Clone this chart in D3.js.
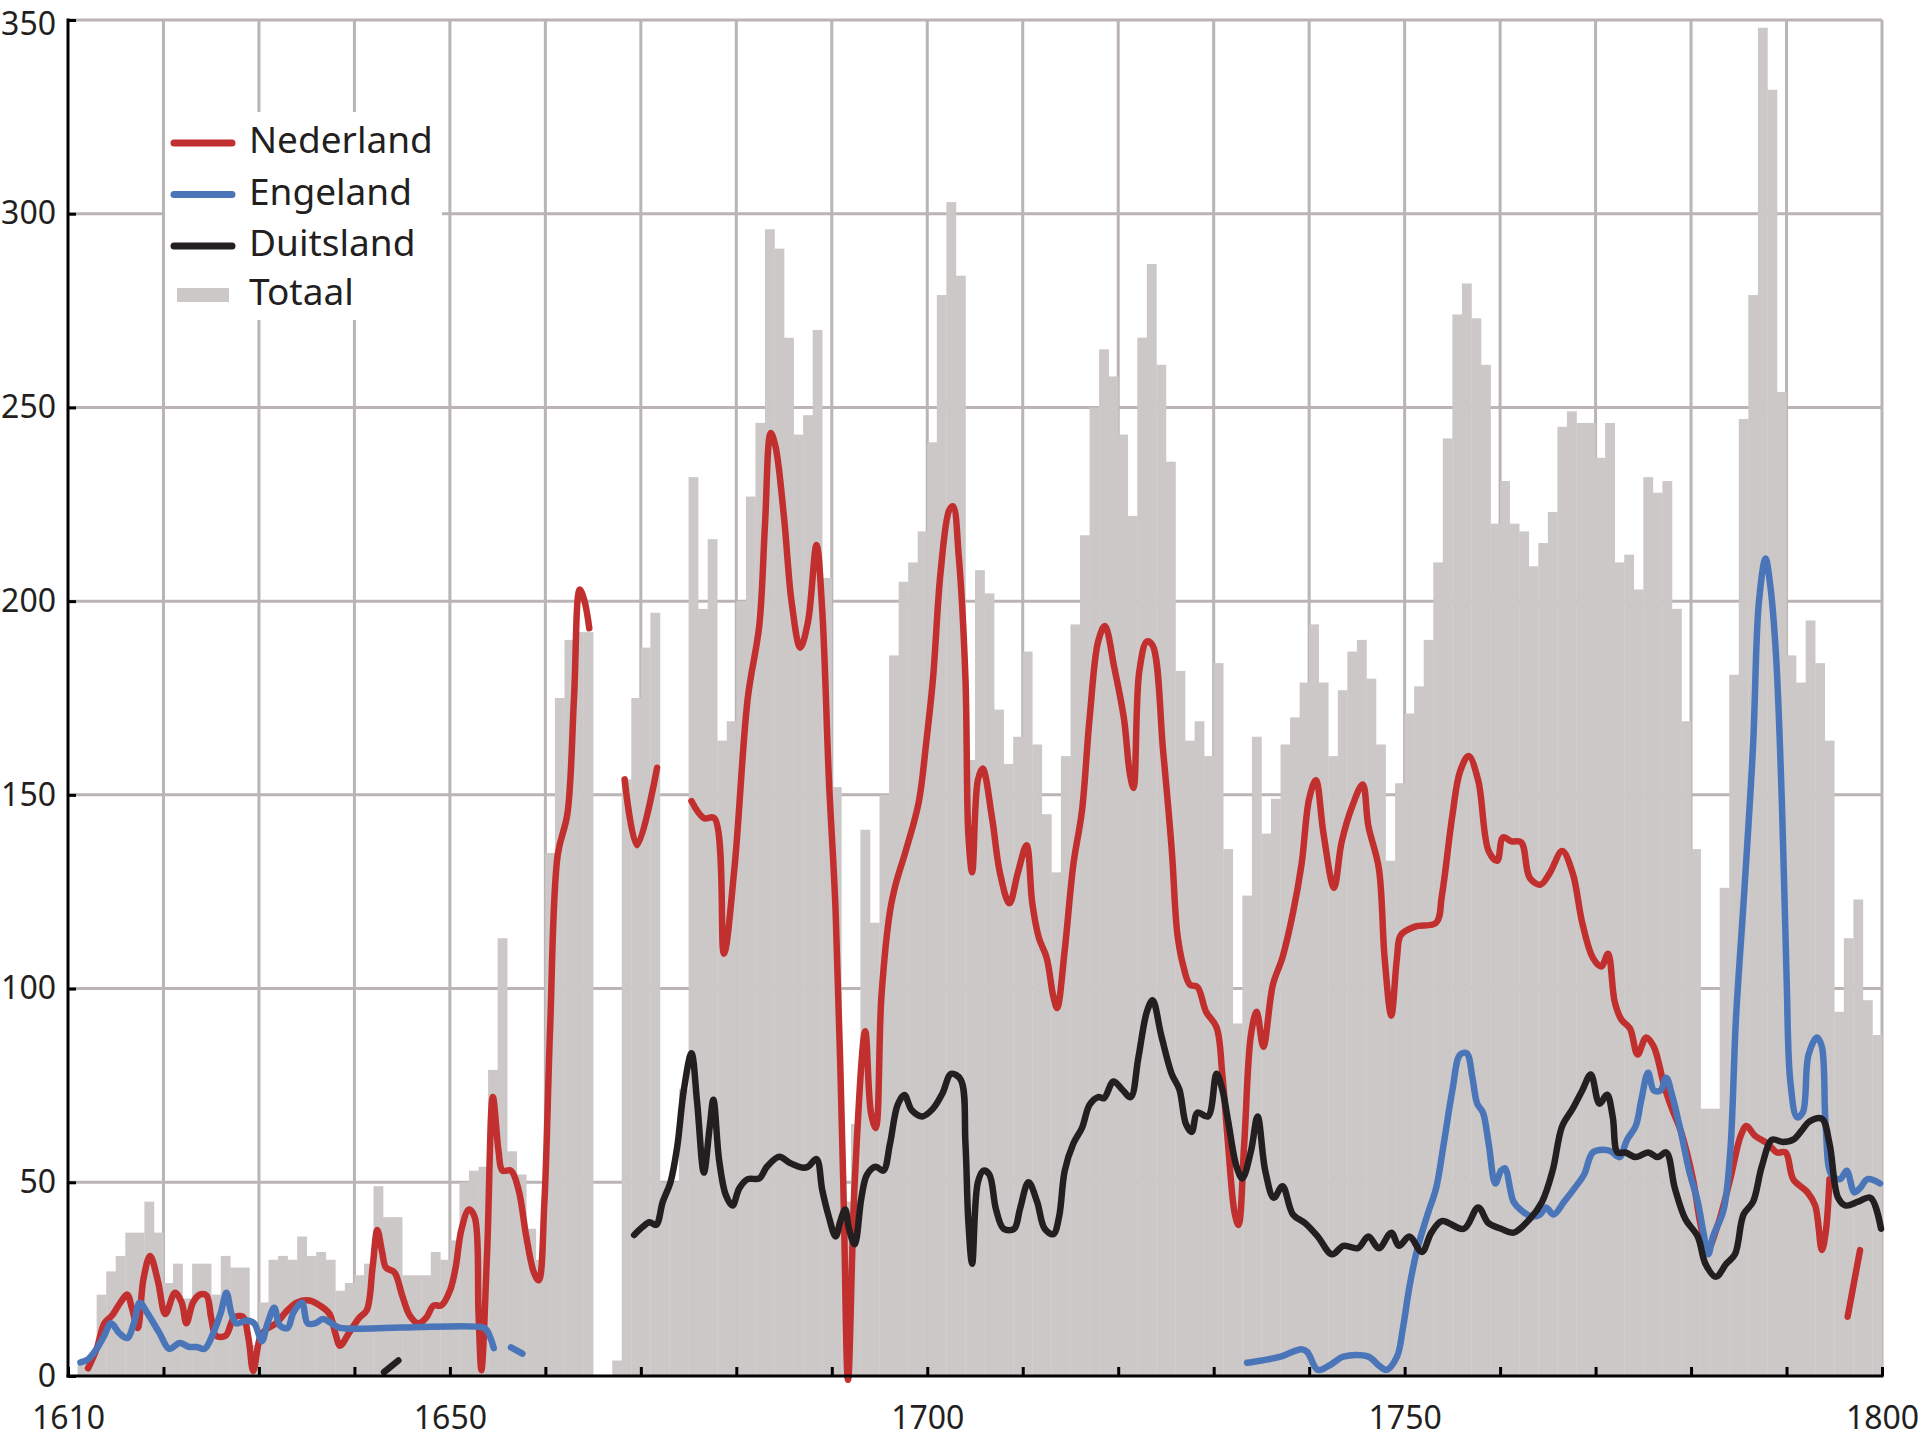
<!DOCTYPE html>
<html><head><meta charset="utf-8">
<script src="https://cdn.jsdelivr.net/npm/d3@7"></script>
<style>
body{margin:0;background:#fff}
svg{display:block}
text{font-family:"Noto Sans",sans-serif;fill:#231f20}
</style>
</head><body>
<svg id="chart" width="1920" height="1440"></svg>
<script>
// ---------- DATA ----------
const firstYear = 1611;
const totaal = [
 3,5,21,27,31,37,37,45,37,            // 1611-1619
 24,29,20,29,29,21,31,28,28,8,        // 1620-1629
 19,30,31,30,36,31,32,30,22,24,       // 1630-1639
 26,29,49,41,41,26,26,26,32,30,       // 1640-1649
 35,50,53,54,79,113,58,52,38,30,      // 1650-1659
 135,175,190,192,192,0,0,4,154,175,   // 1660-1669
 188,197,50,50,74,232,198,216,164,169,// 1670-1679
 200,227,246,296,291,268,243,248,270,206, // 1680-1689
 152,45,65,141,117,150,186,205,210,218,   // 1690-1699
 241,279,303,284,159,208,202,172,158,165, // 1700-1709
 187,163,145,130,160,194,217,250,265,258, // 1710-1719
 243,222,268,287,261,236,182,164,169,160, // 1720-1729
 184,136,91,124,165,140,149,163,170,179,  // 1730-1739
 194,179,160,177,187,190,180,163,133,153, // 1740-1749
 171,178,190,210,242,274,282,273,261,220, // 1750-1759
 231,220,218,209,215,223,245,249,246,246, // 1760-1769
 237,246,210,212,203,232,228,231,198,169, // 1770-1779
 136,69,69,126,181,247,279,348,332,254,   // 1780-1789
 186,179,195,184,164,94,113,123,97,88     // 1790-1799
];

const nederland = [
 [1612.1,2],[1613,7],[1613.8,13.6],[1614.6,15.6],[1615.5,19],[1616.2,21],[1616.7,17.5],[1617.3,12.4],
 [1617.9,25],[1618.6,31],[1619.4,24.7],[1620.2,16],[1621.2,21.5],[1621.9,19],[1622.4,13.6],[1623.1,19],
 [1623.8,21],[1624.5,20.8],[1625,15],[1625.5,10.4],[1626.5,10.4],[1627.4,15],[1628.3,15.3],[1628.9,9.8],
 [1629.4,1.3],[1630.1,9.8],[1630.7,12],[1631.8,13.6],[1633,17],[1634,19],[1635.3,19.5],[1636.5,18],
 [1637.4,16],[1638,11],[1638.5,7.8],[1639.4,11],[1640.5,15],[1641.3,17],[1641.9,28],[1642.4,37.7],
 [1642.9,32],[1643.3,28],[1644.2,26.7],[1645,20.8],[1645.8,15.6],[1646.7,13.6],[1647.5,15],[1648.3,18.2],
 [1649.1,18.2],[1650,22],[1650.6,28],[1651.2,37.7],[1652,43],[1652.6,41],[1653,16],[1653.3,1.5],
 [1653.9,32],[1654.5,72],[1655.1,58],[1655.5,53],[1656.4,53],[1657.2,48],[1658,36],[1658.8,26.7],
 [1659.3,24.7],[1659.9,45],[1660.5,90],[1661.3,134.6],[1662.3,145],[1663,175],[1663.6,203],[1664.1,200],[1664.6,193],
 null,
 [1668.3,154],[1669.6,137],[1671.7,157],
 null,
 [1675.3,148.4],[1676.6,144],[1677.7,144],[1678.7,109],[1679.8,131],[1681.2,175],[1682.4,193.6],[1683,219.5],
 [1683.6,243.4],[1684.1,240],[1685,221.5],[1685.8,199.6],[1686.7,188],[1687.5,194.6],[1688.4,214.5],[1689,197.6],
 [1689.7,153.8],[1690.4,120],[1691.2,50],[1691.7,-1],[1692.4,50],[1693.5,89],[1694.1,68],[1694.6,64],
 [1695.2,98],[1696.1,120],[1696.7,127],[1697.8,136],[1699.1,148],[1699.9,163.7],[1700.6,180],[1701.4,207.6],
 [1702.3,223.5],[1702.7,224.5],[1703.3,211.5],[1704,180],[1704.3,140],[1704.7,130],[1705.3,153.8],[1705.8,156.8],
 [1706.8,143.8],[1707.6,130],[1708.6,122],[1709.5,130],[1710.4,137],[1711,122],[1711.7,113],[1712.5,108],
 [1713.2,98],[1713.6,95],[1714.4,110],[1715.3,132],[1716.2,145.8],[1717,169.7],[1717.9,189.6],[1718.6,193.6],
 [1719.6,182.7],[1720.6,169.7],[1721.2,155.8],[1721.6,151.8],[1722.2,181.7],[1723,189.6],[1723.6,188.6],[1724.7,161.4],
 [1725.6,136],[1726.2,114],[1726.8,106],[1727.5,101],[1728.3,100.4],[1729.2,94],[1730.3,90],[1730.9,78],
 [1731.5,60],[1732.2,42],[1732.6,39],[1733.2,60],[1733.9,88],[1734.5,94],[1735.2,85],[1736.2,101],
 [1737.2,108],[1738.3,119.5],[1739.2,132],[1740,149],[1740.7,153.8],[1741.5,140],[1742.6,126],[1743.4,137.8],
 [1744.5,147],[1745.6,152.7],[1746.2,142],[1747.3,131],[1747.9,108],[1748.6,93],[1749.2,108],[1749.6,113.8],
 [1751.1,116],[1753.3,117],[1753.9,124],[1755,144.7],[1755.8,156],[1756.7,160],[1757.7,153.8],[1758.8,135.5],
 [1759.7,133],[1760.3,139],[1761.2,138],[1762.2,137.8],[1763.1,128.6],[1764.2,126.8],[1765.2,129.8],[1766.5,135.5],
 [1767.6,129.8],[1768.6,117],[1769.7,108],[1770.6,105.7],[1771.3,109],[1772,96.6],[1772.7,92],[1773.6,89.7],
 [1774.4,83],[1775.3,87.4],[1776.1,85],[1777.2,74.8],[1778,69],[1778.9,63.4],[1780.2,50.8],[1781,39],
 [1781.7,32.5],[1782.8,39],[1784.1,50.8],[1785.2,62],[1785.8,64.5],[1786.7,62],[1788,60],[1789,57.7],
 [1789.9,57.7],[1790.7,50.8],[1792.2,47.4],[1793,44],[1793.7,32.5],[1794.1,37],[1794.5,50.8],
 null,
 [1796.4,15.3],[1797.7,32.5]
];

const engeland = [
 [1611.3,3.5],[1612.1,4.3],[1613,7],[1613.8,10.4],[1614.5,13.6],[1615.4,11],[1616.2,9.8],[1616.9,13.6],
 [1617.5,18.9],[1618.3,16.3],[1619.6,11],[1620.6,7],[1621.7,8.5],[1622.7,7.5],[1623.5,7.5],[1624.3,7],
 [1625.2,11],[1626,16.3],[1626.6,21.5],[1627.1,16.3],[1627.6,13.6],[1628.7,14.3],[1629.5,13.6],[1630.3,9],
 [1630.9,13.6],[1631.6,17.6],[1632.2,13],[1633,12.4],[1633.6,16.3],[1634.5,18.9],[1635.1,13.6],[1635.9,13.6],
 [1636.7,14.7],[1637.6,13.6],[1638.4,12.5],[1645,12.5],[1653.5,12.5],[1653.9,11.7],[1654.6,7.2],
 null,
 [1656.4,7.4],[1657.6,5.8],
 null,
 [1733.5,3.4],[1735,4],[1737,5],[1739.2,6.9],[1739.8,6.2],[1740.9,1.6],[1742.1,2.7],[1743.6,5],
 [1746.2,5],[1747.3,2.7],[1748.1,1.6],[1749.2,5],[1749.8,12],[1750.5,23],[1751.3,32.5],[1752.4,41.7],
 [1753.3,48.5],[1754.1,60],[1755,73.7],[1755.8,82.9],[1756.5,83.3],[1757.1,77],[1757.6,70.3],[1758.2,68],
 [1758.8,60],[1759.5,49.7],[1760.1,53],[1760.5,53.6],[1761.4,45],[1762.2,42.8],[1763.3,41.2],[1764.2,41.7],
 [1764.8,43.5],[1765.6,41.7],[1766.7,45],[1767.8,48.5],[1768.8,52],[1769.7,57.7],[1770.8,58.4],[1771.6,58],
 [1772.5,56.5],[1773.3,61],[1774.2,64.5],[1774.8,71.4],[1775.5,78.3],[1776.1,73.7],[1776.8,73.7],[1777.4,77],
 [1778,72.6],[1778.9,63.4],[1779.8,53],[1780.7,45],[1781.3,37],[1781.8,31.4],[1782.3,36],[1783.4,42.8],
 [1784.1,57.7],[1784.7,92],[1785.6,126],[1786.5,163],[1787.1,199.6],[1787.8,211],[1788.3,204],[1788.9,186],
 [1789.5,149],[1790,103.5],[1790.4,76],[1791.1,66.8],[1791.7,68],[1792.3,82.9],[1793.2,87.4],[1793.7,85],
 [1794.1,64.5],[1794.7,52],[1795.6,50.8],[1796.3,53],[1797.1,47.4],[1797.7,48.5],[1798.5,50.8],[1799.8,49.7]
];

const duitsland = [
 [1643.1,1],[1644.6,4],
 null,
 [1669.3,36.4],[1670.2,38.5],[1670.9,39.7],[1671.6,39],[1672.3,45],[1673.1,50],[1673.8,59],[1674.5,73.8],
 [1675.3,83.3],[1675.9,70.5],[1676.6,52.5],[1677.2,64],[1677.6,71.3],[1678.2,55.7],[1678.9,46.7],[1679.6,44],
 [1680.3,48.4],[1681.2,50.8],[1682.4,51],[1683.2,54],[1684.5,56.6],[1685.6,55],[1686.9,53.8],[1687.5,54],
 [1688.4,56],[1689,48],[1689.7,41],[1690.4,36],[1690.9,40],[1691.4,43],[1691.8,38],[1692.4,34],
 [1693.1,46],[1693.7,52],[1694.6,54],[1695.4,53],[1696.1,60],[1696.9,70],[1697.6,72.5],[1698.4,68.5],
 [1699.5,67],[1700.6,69],[1701.6,73],[1702.5,78],[1703.5,76.5],[1704,60],[1704.3,40],[1704.7,29],
 [1705.3,50],[1705.9,53],[1706.5,52],[1707.2,43],[1708,38],[1709.1,38],[1709.7,43],[1710.6,50],
 [1711.5,45],[1712.3,38],[1713.2,36.6],[1713.8,41],[1714.4,53],[1715.3,60],[1716.2,64],[1717,70],
 [1717.9,72],[1718.5,71.7],[1719.5,76],[1720.4,74],[1721.3,72],[1722.1,82],[1723,94],[1723.6,97],
 [1724.5,88],[1725.6,78],[1726.4,74],[1727.1,65],[1727.7,63],[1728.3,68],[1729.4,67],[1730.3,78],
 [1730.9,74],[1731.5,66],[1732.4,54],[1733,51],[1733.9,58],[1734.6,67],[1735.4,53],[1736.3,46],
 [1737.2,49],[1738.3,41.7],[1739.6,39.4],[1740.9,36],[1742.4,31.4],[1743.6,33.6],[1745.1,33],[1746.2,36],
 [1747.3,33],[1748.6,37],[1749.4,33.6],[1750.5,36],[1751.8,32],[1752.8,37],[1753.9,40],[1756.2,38],
 [1757.7,43.5],[1758.8,39.4],[1760.1,38],[1761.4,37],[1763.1,40.5],[1764.4,45],[1765.5,53],[1766.5,64.5],
 [1767.6,69],[1768.6,73.7],[1769.5,77.8],[1770.4,70.3],[1771.2,72.6],[1771.8,66.8],[1772.3,57.7],[1773.1,57.7],
 [1774.2,56.5],[1775.5,57.7],[1776.5,56.5],[1777.4,57.7],[1778.3,48.5],[1779.4,40.5],[1780.7,36],[1781.5,29],
 [1782.6,25.6],[1783.7,29],[1784.6,31.4],[1785.5,41.7],[1786.5,45],[1787.4,54],[1788.5,61],[1789.6,60.4],
 [1790.7,61],[1791.6,63.4],[1792.4,65.7],[1793.7,66.4],[1794.5,60],[1795.4,46],[1796.2,44],[1797.5,45],
 [1798.8,46],[1799.9,38]
];

const xTickYears = [1610,1620,1630,1640,1650,1660,1670,1680,1690,1700,1710,1720,1730,1740,1750,1760,1770,1780,1790,1800];
const xLabelYears = [1610,1650,1700,1750,1800];
const yTickValues = [0,50,100,150,200,250,300,350];
const legendItems = ["Nederland","Engeland","Duitsland","Totaal"];

// ---------- STYLE ----------
const C = {red:"#c1302e", blue:"#4a76b9", black:"#231f20", bar:"#ccc8c8", grid:"#bab4b4"};

// ---------- SCALES ----------
const svg = d3.select("#chart");
const x = d3.scaleLinear().domain([1610,1800]).range([68,1882]);
const y = d3.scaleLinear().domain([0,350]).range([1376,20]);

// gridlines
const grid = svg.append("g");
grid.selectAll("line.v").data(xTickYears.filter(d=>d>1610)).enter().append("line")
  .attr("x1",d=>x(d)).attr("x2",d=>x(d)).attr("y1",y(350)).attr("y2",y(0))
  .attr("stroke",C.grid).attr("stroke-width",3);
grid.selectAll("line.h").data(yTickValues.filter(d=>d>0)).enter().append("line")
  .attr("x1",x(1610)).attr("x2",x(1800)).attr("y1",d=>y(d)).attr("y2",d=>y(d))
  .attr("stroke",C.grid).attr("stroke-width",3);

// legend background (hides gridlines)
svg.append("rect").attr("x",165).attr("y",112).attr("width",277).attr("height",208).attr("fill","#fff");

// bars
svg.append("g").selectAll("rect").data(totaal.map((v,i)=>({year:firstYear+i,v}))).enter()
  .append("rect")
  .attr("x",d=>x(d.year)).attr("width",d=>x(d.year+1)-x(d.year)+0.3)
  .attr("y",d=>y(d.v)).attr("height",d=>y(0)-y(d.v))
  .attr("fill",C.bar);

// lines
const line = d3.line().defined(d=>d!==null).x(d=>x(d[0])).y(d=>y(d[1]))
  .curve(d3.curveCatmullRom.alpha(0.5));
[[nederland,C.red],[engeland,C.blue],[duitsland,C.black]].forEach(([data,col])=>{
  svg.append("path").attr("d",line(data)).attr("fill","none").attr("stroke",col)
    .attr("stroke-width",6.5).attr("stroke-linecap","round").attr("stroke-linejoin","round");
});

// axes
const xAxis = d3.axisBottom(x).tickValues(xTickYears).tickSizeInner(-9).tickSizeOuter(0).tickPadding(30)
  .tickFormat(d=>xLabelYears.includes(d)?String(d):"");
const gx = svg.append("g").attr("transform",`translate(0,${y(0)})`).call(xAxis);
gx.select(".domain").remove();
gx.selectAll(".tick line").attr("stroke","#000").attr("stroke-width",3);
gx.selectAll(".tick text").attr("font-size",32).attr("font-family","Noto Sans").attr("fill","#231f20");

const yAxis = d3.axisLeft(y).tickValues(yTickValues).tickSizeInner(-8).tickSizeOuter(0).tickPadding(12)
  .tickFormat(d=>String(d));
const gy = svg.append("g").attr("transform",`translate(${x(1610)},0)`).call(yAxis);
gy.select(".domain").remove();
gy.selectAll(".tick line").attr("stroke","#000").attr("stroke-width",3);
gy.selectAll(".tick text").attr("font-size",32).attr("font-family","Noto Sans").attr("fill","#231f20")
  .attr("dy",d=>d===350?"0.45em":"0.32em");

svg.append("line").attr("x1",x(1610)).attr("x2",x(1610)).attr("y1",y(350)-1.5).attr("y2",y(0)+1.5)
  .attr("stroke","#000").attr("stroke-width",3);
svg.append("line").attr("x1",x(1610)-1.5).attr("x2",x(1800)+1.5).attr("y1",y(0)).attr("y2",y(0))
  .attr("stroke","#000").attr("stroke-width",3);

// legend
const lg = svg.append("g");
const legendColors = [C.red,C.blue,C.black,C.bar];
const baselines = [153,204.5,256,305];
legendItems.forEach((name,i)=>{
  if(i<3){
    lg.append("line").attr("x1",174).attr("x2",232).attr("y1",baselines[i]-10).attr("y2",baselines[i]-10)
      .attr("stroke",legendColors[i]).attr("stroke-width",7).attr("stroke-linecap","round");
  } else {
    lg.append("rect").attr("x",177).attr("y",baselines[i]-17).attr("width",52).attr("height",14).attr("fill",legendColors[i]);
  }
  lg.append("text").attr("x",249).attr("y",baselines[i]).attr("font-size",37).text(name);
});
</script>
</body></html>
